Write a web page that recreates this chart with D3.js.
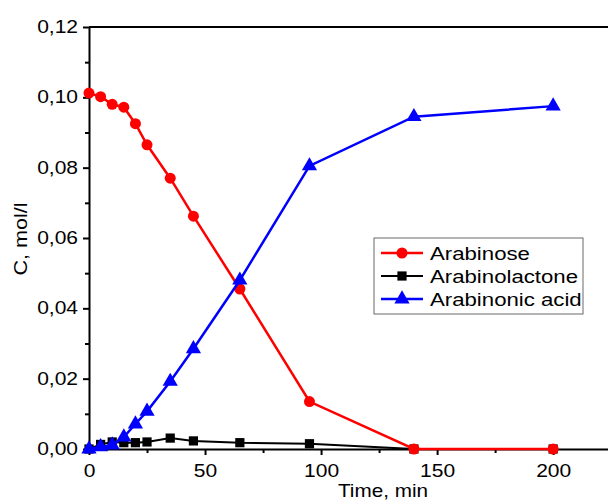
<!DOCTYPE html>
<html><head><meta charset="utf-8">
<script src="https://cdn.jsdelivr.net/npm/d3@7"></script>
<style>body{margin:0;background:#fff}svg{display:block}text{font-family:"Liberation Sans",Arial,sans-serif}</style>
</head><body><svg id="c" width="608" height="500"></svg>
<script>
const times = [0, 5, 10, 15, 20, 25, 35, 45, 65, 95, 140, 200];
const arabinose = [0.1012, 0.1002, 0.0980, 0.0972, 0.0925, 0.0865, 0.0770, 0.0662, 0.0455, 0.0135, 0.0, 0.0];
const arabinolactone = [0.0, 0.0013, 0.0020, 0.0018, 0.0018, 0.0020, 0.0031, 0.0023, 0.0018, 0.0015, 0.0, 0.0];
const arabinonicAcid = [0.0, 0.0006, 0.0011, 0.0034, 0.0071, 0.0107, 0.0192, 0.0285, 0.0480, 0.0805, 0.0945, 0.0975];
const seriesNames = ["Arabinose", "Arabinolactone", "Arabinonic acid"];
const seriesColors = ["#ff0000", "#000000", "#0000ff"];
const seriesSymbols = ["circle", "square", "triangle"];
const xTicks = [0, 50, 100, 150, 200];
const yTicks = [0, 0.02, 0.04, 0.06, 0.08, 0.10, 0.12];
const xTitle = "Time, min";
const yTitle = "C, mol/l";

const SX = 1.2; // horizontal stretch of the original's text
const svg = d3.select("#c");
const x = d3.scaleLinear().domain([0, 224.5]).range([89, 610]);
const y = d3.scaleLinear().domain([0, 0.12]).range([449, 27]);
const fmtY = d => d3.format(".2f")(d).replace(".", ",");

// top frame
svg.append("line").attr("x1", x(0)).attr("x2", 608).attr("y1", y(0.12)).attr("y2", y(0.12))
  .attr("stroke", "#000").attr("stroke-width", 2);

// axes
const xAxis = svg.append("g").attr("transform", `translate(0,${y(0)})`)
  .call(d3.axisBottom(x).tickValues(xTicks).tickSize(6).tickSizeOuter(0).tickPadding(4).tickFormat(d3.format("d")));
const xMinor = svg.append("g").attr("transform", `translate(0,${y(0)})`)
  .call(d3.axisBottom(x).tickValues([25, 75, 125, 175]).tickSize(4).tickSizeOuter(0).tickFormat(""));
const yAxis = svg.append("g").attr("transform", `translate(${x(0)},0)`)
  .call(d3.axisLeft(y).tickValues(yTicks).tickSize(6).tickSizeOuter(0).tickPadding(4).tickFormat(fmtY));
const yMinor = svg.append("g").attr("transform", `translate(${x(0)},0)`)
  .call(d3.axisLeft(y).tickValues([0.01, 0.03, 0.05, 0.07, 0.09, 0.11]).tickSize(4).tickSizeOuter(0).tickFormat(""));
[xAxis, xMinor, yAxis, yMinor].forEach(g => {
  g.selectAll("path,line").attr("stroke", "#000").attr("stroke-width", 2);
  g.selectAll("text").attr("fill", "#000").style("font-size", "17.5px").style("font-family", "Liberation Sans, Arial, sans-serif");
});
xMinor.select("path").remove();
yMinor.select("path").remove();
xAxis.selectAll("text").attr("dy", null).attr("y", 28).attr("transform", `scale(${SX},1)`);
yAxis.selectAll("text").attr("x", -11 / SX).attr("transform", `scale(${SX},1)`);

// titles
svg.append("text").attr("transform", `translate(383,497) scale(1.15,1)`).attr("text-anchor", "middle")
  .style("font-size", "18px").text(xTitle);
svg.append("text").attr("transform", "translate(27,239) rotate(-90) scale(1.2,1)").attr("text-anchor", "middle")
  .style("font-size", "18px").text(yTitle);

const data = [arabinose, arabinolactone, arabinonicAcid];
const symTypes = {circle: d3.symbolCircle, square: d3.symbolSquare, triangle: d3.symbolTriangle};
const symSizes = {circle: 95, square: 85, triangle: 100};
const line = d3.line().x(d => x(d[0])).y(d => y(d[1]));

const order = [1, 0, 2];
order.forEach(i => {
  const pts = times.map((t, k) => [t, data[i][k]]);
  svg.append("path").datum(pts).attr("d", line).attr("fill", "none")
    .attr("stroke", seriesColors[i]).attr("stroke-width", i === 1 ? 2 : 2.5);
  svg.append("g").selectAll("path").data(pts).join("path")
    .attr("transform", d => `translate(${x(d[0])},${y(d[1])})`)
    .attr("d", d3.symbol().type(symTypes[seriesSymbols[i]]).size(symSizes[seriesSymbols[i]]))
    .attr("fill", seriesColors[i]);
});

// legend
const lg = svg.append("g");
lg.append("rect").attr("x", 374).attr("y", 238).attr("width", 209).attr("height", 76)
  .attr("fill", "#fff").attr("stroke", "#444").attr("stroke-width", 0.8);
seriesNames.forEach((n, i) => {
  const cy = 253 + i * 23;
  lg.append("line").attr("x1", 381).attr("x2", 423).attr("y1", cy).attr("y2", cy)
    .attr("stroke", seriesColors[i]).attr("stroke-width", i === 1 ? 2 : 2.5);
  lg.append("path").attr("transform", `translate(402,${cy})`)
    .attr("d", d3.symbol().type(symTypes[seriesSymbols[i]]).size(symSizes[seriesSymbols[i]]))
    .attr("fill", seriesColors[i]);
  lg.append("text").attr("transform", `translate(430,${cy + 7}) scale(${SX},1)`)
    .style("font-size", "18.5px").text(n);
});
</script></body></html>
